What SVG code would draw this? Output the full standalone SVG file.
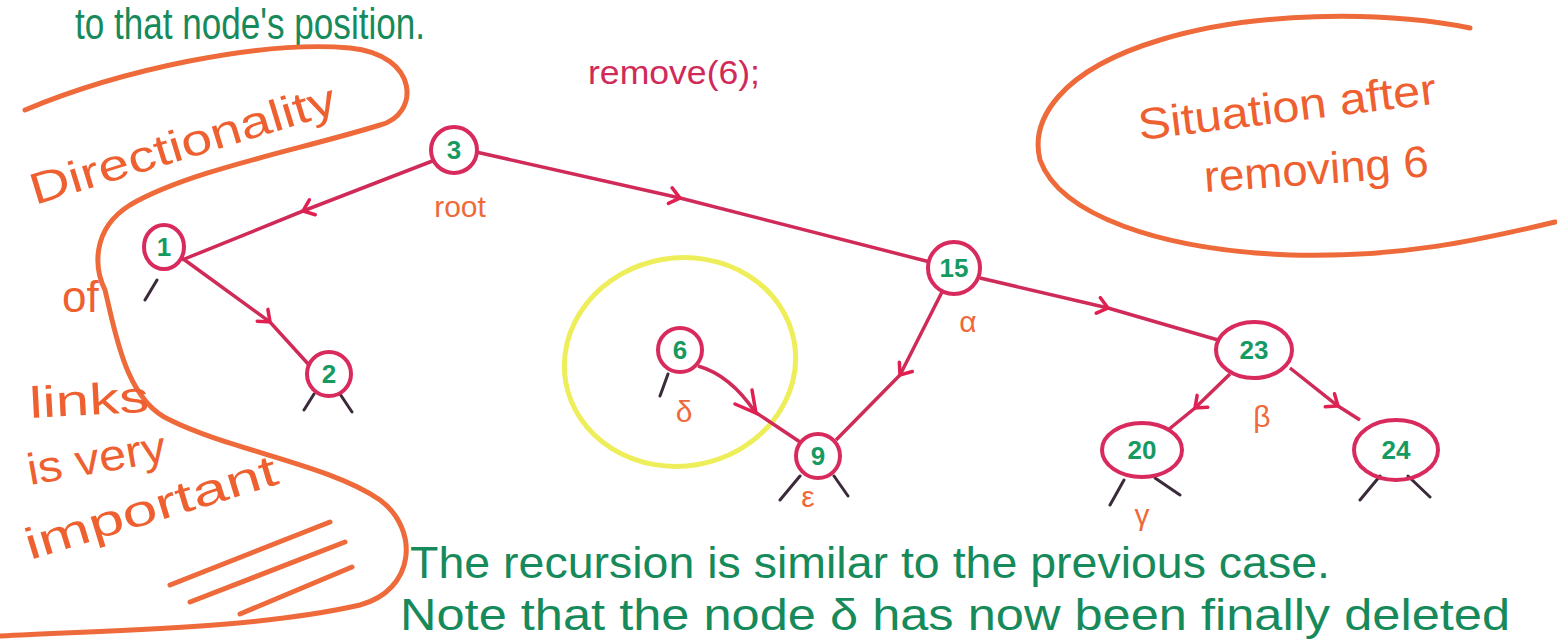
<svg xmlns="http://www.w3.org/2000/svg" width="1557" height="642" viewBox="0 0 1557 642">
<style>
.node{fill:none;stroke:#d82a5c;stroke-width:4}
.num{font-family:"Liberation Sans",Arial,sans-serif;font-weight:bold;font-size:26px;fill:#179a62;text-anchor:middle;dominant-baseline:central}
.edge{fill:none;stroke:#d02a58;stroke-width:3.5;marker-mid:url(#chev)}
.stub{fill:none;stroke:#3a2a3a;stroke-width:3;stroke-linecap:round}
.lab{font-family:"Liberation Sans",Arial,sans-serif;font-size:30px;fill:#ee6a3a;text-anchor:middle}
.note{font-family:"Liberation Sans",Arial,sans-serif;font-size:44px;fill:#168a5a}
.ann{font-family:"Liberation Sans",Arial,sans-serif;font-size:44px;fill:#ee6030}
.hand{fill:none;stroke:#ee6a3a;stroke-width:5;stroke-linecap:round}
</style>
<defs>
<marker id="chev" viewBox="-12 -10 14 20" markerWidth="14" markerHeight="20" markerUnits="userSpaceOnUse" orient="auto" refX="0" refY="0">
<path d="M-10,-8 L0,0 L-10,8" fill="none" stroke="#e02050" stroke-width="3.5" stroke-linecap="round"/>
</marker>
</defs>
<rect width="1557" height="642" fill="#ffffff"/>

<!-- annotations -->
<text class="note" x="75" y="39" font-size="31" textLength="350" lengthAdjust="spacingAndGlyphs">to that node's position.</text>
<text x="588" y="84" font-family="Liberation Sans,Arial,sans-serif" font-size="34" fill="#d02a58" textLength="172" lengthAdjust="spacingAndGlyphs">remove(6);</text>
<text class="note" x="410" y="578" textLength="920" lengthAdjust="spacingAndGlyphs">The recursion is similar to the previous case.</text>
<text class="note" x="400" y="630" font-size="34" textLength="1110" lengthAdjust="spacingAndGlyphs">Note that the node δ has now been finally deleted</text>

<path class="hand" d="M25,110 C120,70 260,40 350,48 C420,55 420,115 380,125 C300,150 190,170 130,205 C90,230 95,270 105,290 C115,330 125,400 170,420 C230,450 330,465 380,500 C420,530 415,590 360,605 C250,630 100,630 0,636"/>
<text class="ann" transform="translate(35,205) rotate(-17)" font-size="50" textLength="318" lengthAdjust="spacingAndGlyphs">Directionality</text>
<text class="ann" x="62" y="312" font-size="48">of</text>
<text class="ann" transform="translate(30,418) rotate(-3)" font-size="46" textLength="120" lengthAdjust="spacingAndGlyphs">links</text>
<text class="ann" transform="translate(30,485) rotate(-10)" font-size="40" textLength="140" lengthAdjust="spacingAndGlyphs">is very</text>
<text class="ann" transform="translate(30,560) rotate(-17)" font-size="46" textLength="262" lengthAdjust="spacingAndGlyphs">important</text>
<path class="hand" d="M170,585 L330,522 M190,602 L345,542 M240,614 L352,567"/>

<path class="hand" d="M1470,28 C1380,10 1250,12 1160,40 C1060,70 1030,120 1040,160 C1060,215 1160,250 1290,255 C1400,258 1480,240 1555,222"/>
<text class="ann" transform="translate(1140,140) rotate(-7)" font-size="46" textLength="300" lengthAdjust="spacingAndGlyphs">Situation after</text>
<text class="ann" transform="translate(1205,192) rotate(-4)" font-size="46" textLength="225" lengthAdjust="spacingAndGlyphs">removing 6</text>

<!-- yellow circle -->
<ellipse cx="680" cy="362" rx="116" ry="104" fill="none" stroke="#eeee5a" stroke-width="5" transform="rotate(-10 680 362)"/>

<!-- connectors -->
<g id="connectors">
<polyline class="edge" points="435,160 303,211 182,260"/>
<polyline class="edge" points="182,258 270,322 310,366"/>
<polyline class="edge" points="476,152 680,198 930,262"/>
<polyline class="edge" points="942,292 900,375 836,440"/>
<polyline class="edge" points="980,278 1108,308 1218,340"/>
<polyline class="edge" points="1230,374 1195,408 1168,430"/>
<polyline class="edge" points="1290,368 1338,406 1360,420"/>
<path fill="none" stroke="#d02a58" stroke-width="3.5" d="M698,366 Q730,375 755,412 L800,442"/>
<path fill="none" stroke="#e02050" stroke-width="3.5" stroke-linecap="round" d="M735,404 L756,413 L752,390"/>
<path class="stub" d="M145,300 L157,280 M304,410 L314,394 M340,394 L352,412 M660,396 L668,374 M780,500 L800,476 M834,476 L848,496 M1110,505 L1124,480 M1155,478 L1180,495 M1360,500 L1380,476 M1408,476 L1430,497"/>
</g>

<!-- nodes -->
<g id="n3"><circle class="node" cx="454" cy="150" r="23"/><text class="num" x="454" y="150">3</text></g>
<g id="n1"><ellipse class="node" cx="164" cy="247" rx="20" ry="22"/><text class="num" x="164" y="247">1</text></g>
<g id="n2"><circle class="node" cx="329" cy="374" r="22"/><text class="num" x="329" y="374">2</text></g>
<g id="n15"><circle class="node" cx="954" cy="268" r="26"/><text class="num" x="954" y="268">15</text></g>
<g id="n6"><circle class="node" cx="680" cy="350" r="22"/><text class="num" x="680" y="350">6</text></g>
<g id="n9"><circle class="node" cx="818" cy="456" r="22"/><text class="num" x="818" y="456">9</text></g>
<g id="n23"><ellipse class="node" cx="1254" cy="350" rx="38" ry="28"/><text class="num" x="1254" y="350">23</text></g>
<g id="n20"><ellipse class="node" cx="1142" cy="450" rx="40" ry="27"/><text class="num" x="1142" y="450">20</text></g>
<g id="n24"><ellipse class="node" cx="1396" cy="450" rx="42" ry="30"/><text class="num" x="1396" y="450">24</text></g>

<!-- labels -->
<text class="lab" x="460" y="217">root</text>
<text class="lab" x="968" y="332">α</text>
<text class="lab" x="684" y="422">δ</text>
<text class="lab" x="808" y="507">ε</text>
<text class="lab" x="1262" y="427">β</text>
<text class="lab" x="1142" y="525">γ</text>
</svg>
